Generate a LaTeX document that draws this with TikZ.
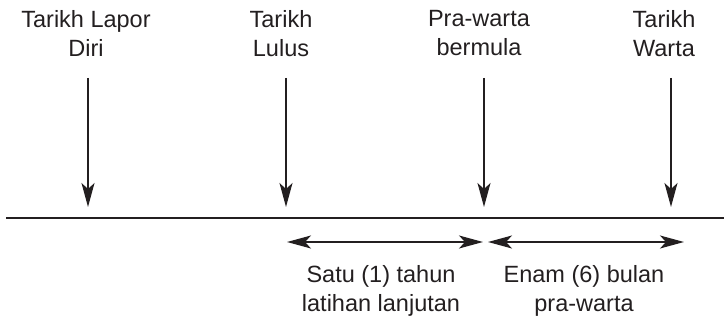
\documentclass[tikz,border=0pt]{standalone}
\usepackage{fontspec}
\setmainfont{Liberation Sans}
\usetikzlibrary{arrows.meta}
\definecolor{ink}{HTML}{231F20}
\begin{document}
\begin{tikzpicture}[x=1pt,y=-1pt,
  lbl/.style={anchor=north,inner sep=0pt,align=center,text=ink,
    font=\fontsize{23.5}{29.5}\selectfont},
  tip/.style={},
  arr/.style={draw=ink,line width=1.3pt,-{Stealth[length=24pt,width=13pt,inset=6pt]}},
  darr/.style={draw=ink,line width=1.3pt,{Stealth[length=24pt,width=13pt,inset=6pt]}-{Stealth[length=24pt,width=13pt,inset=6pt]}},
  tline/.style={draw=ink,line width=1.5pt}]
\useasboundingbox (0,0) rectangle (724,321);
% labels
\node[lbl] (t1) at (86,10) {Tarikh Lapor\\Diri};
\node[lbl] (t2) at (281,10) {Tarikh\\Lulus};
\node[lbl] (t3) at (479,10) {Pra-warta\\bermula};
\node[lbl] (t4) at (664,10) {Tarikh\\Warta};
\node[lbl] (b1) at (381,265) {Satu (1) tahun\\latihan lanjutan};
\node[lbl] (b2) at (584,265) {Enam (6) bulan\\pra-warta};
% timeline
\coordinate (L) at (6,218);
\coordinate (R) at (724,218);
\draw[tline] (L) -- (R);
% vertical arrows
\coordinate (s1) at (88,78);  \coordinate (e1) at (88,207);
\coordinate (s2) at (286,78); \coordinate (e2) at (286,207);
\coordinate (s3) at (484,78); \coordinate (e3) at (484,207);
\coordinate (s4) at (671,78); \coordinate (e4) at (671,207);
\draw[arr] (s1) -- (e1);
\draw[arr] (s2) -- (e2);
\draw[arr] (s3) -- (e3);
\draw[arr] (s4) -- (e4);
% span arrows
\coordinate (d1) at (287,242); \coordinate (d2) at (483,242);
\coordinate (d3) at (488,242); \coordinate (d4) at (684,242);
\draw[darr] (d1) -- (d2);
\draw[darr] (d3) -- (d4);
\end{tikzpicture}
\end{document}
